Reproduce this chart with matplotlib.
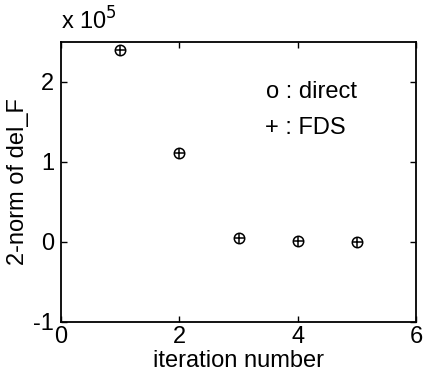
import matplotlib
matplotlib.use("Agg")
import matplotlib.pyplot as plt
import numpy as np

plt.rcParams['font.family'] = ['Liberation Sans', 'DejaVu Sans']
plt.rcParams['axes.unicode_minus'] = False

iterations = [1, 2, 3, 4, 5]
direct = [2.40e5, 1.11e5, 0.05e5, 0.01e5, 0.005e5]
fds = [2.40e5, 1.11e5, 0.05e5, 0.01e5, 0.005e5]
scale = 1e5

fig = plt.figure(figsize=(4.23, 3.80), dpi=100)
ax = fig.add_axes([61/423, 1-322/380, (416-61)/423, (322-42)/380])

ax.plot(iterations, np.array(direct)/scale, linestyle='none', marker='o', markersize=7.5,
        markerfacecolor='none', markeredgecolor='black', markeredgewidth=1.1)
ax.plot(iterations, np.array(fds)/scale, linestyle='none', marker='+', markersize=7.5,
        color='black', markeredgewidth=1.1)

ax.set_xlim(0, 6)
ax.set_ylim(-1, 2.5)
ax.set_xticks([0, 2, 4, 6])
ax.set_yticks([-1, 0, 1, 2])
ax.tick_params(direction='in', length=4, width=1, top=True, right=True, labelsize=17)
ax.tick_params(axis='y', pad=5)
ax.tick_params(axis='x', pad=3)
for s in ax.spines.values():
    s.set_linewidth(1.3)

ax.set_xlabel('iteration number', fontsize=17, labelpad=1)
ax.set_ylabel('2-norm of del_F', fontsize=17, labelpad=3)

ax.text(3.47, 1.87, 'o : direct', fontsize=17, va='center', ha='left')
ax.text(3.45, 1.43, '+ : FDS', fontsize=17, va='center', ha='left')
ax.text(0.0, 1.025, r'x 10$^5$', transform=ax.transAxes, fontsize=17, va='bottom', ha='left')

fig.savefig('out.png', dpi=100)
